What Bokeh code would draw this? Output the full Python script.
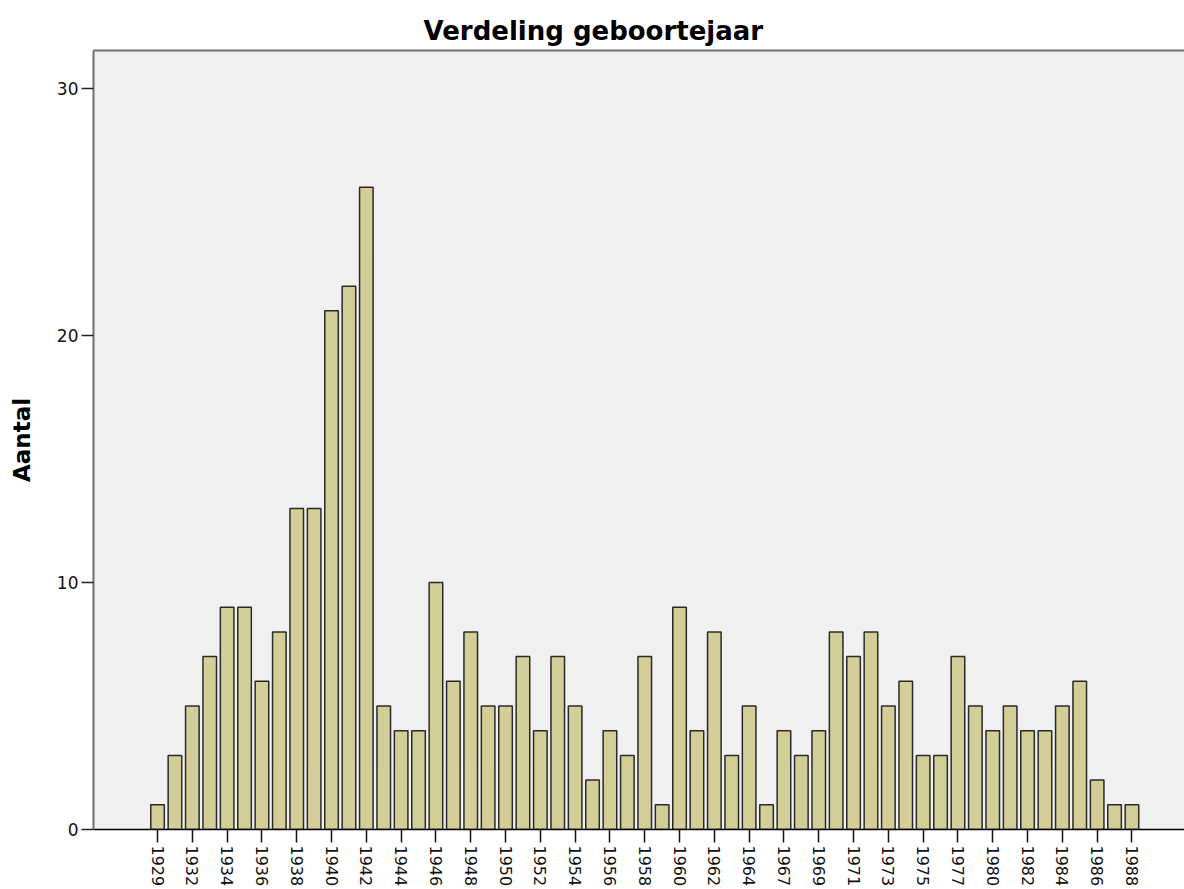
import math
from bokeh.plotting import figure
from bokeh.models import ColumnDataSource, FixedTicker, LinearAxis, Range1d
from bokeh.embed import file_html
from bokeh.resources import INLINE

# Data
years = [1929, 1931, 1932, 1933, 1934, 1935, 1936, 1937, 1938, 1939,
         1940, 1941, 1942, 1943, 1944, 1945, 1946, 1947, 1948, 1949,
         1950, 1951, 1952, 1953, 1954, 1955, 1956, 1957, 1958, 1959,
         1960, 1961, 1962, 1963, 1964, 1966, 1967, 1968, 1969, 1970,
         1971, 1972, 1973, 1974, 1975, 1976, 1977, 1979, 1980, 1981,
         1982, 1983, 1984, 1985, 1986, 1987, 1988]
counts = [1, 3, 5, 7, 9, 9, 6, 8, 13, 13,
          21, 22, 26, 5, 4, 4, 10, 6, 8, 5,
          5, 7, 4, 7, 5, 2, 4, 3, 7, 1,
          9, 4, 8, 3, 5, 1, 4, 3, 4, 8,
          7, 8, 5, 6, 3, 3, 7, 5, 4, 5,
          4, 4, 5, 6, 2, 1, 1]
y_ticks = [0, 10, 20, 30]
title_text = "Verdeling geboortejaar"
y_label = "Aantal"

positions = list(range(len(years)))
src = ColumnDataSource(dict(x=positions, count=counts, year=[str(y) for y in years]))

p = figure(width=1184, height=889,
           x_range=Range1d(-3.68, 59.02), y_range=Range1d(0, 31.54),
           output_backend="svg", toolbar_location=None,
           min_border_left=93, min_border_top=50, min_border_right=0, min_border_bottom=0)

p.background_fill_color = "#F0F0F0"
p.border_fill_color = "white"
p.outline_line_color = None
p.xgrid.grid_line_color = None
p.ygrid.grid_line_color = None

p.vbar(x="x", top="count", width=0.78, source=src,
       fill_color="#D3CE97", line_color="#2a2a2a", line_width=1.5)

# Title
p.title.text = title_text
p.title.align = "left"
p.title.offset = 330
p.title.standoff = 9
p.title.text_font = "DejaVu Sans"
p.title.text_font_size = "26px"
p.title.text_font_style = "bold"
p.title.text_color = "black"

# X axis (bottom)
xaxis = p.below[0]
xt = list(range(0, len(years), 2))
xaxis.ticker = FixedTicker(ticks=xt)
xaxis.major_label_overrides = {i: str(years[i]) for i in xt}
xaxis.major_label_orientation = -math.pi / 2
xaxis.major_label_text_font = "DejaVu Sans"
xaxis.major_label_text_font_size = "16px"
xaxis.major_label_text_color = "#111111"
xaxis.major_label_standoff = 3
xaxis.major_tick_out = 13
xaxis.major_tick_in = 0
xaxis.major_tick_line_color = "#111111"
xaxis.major_tick_line_width = 1.5
xaxis.minor_tick_line_color = None
xaxis.axis_line_color = "black"
xaxis.axis_line_width = 1.5

# Top border as an unlabeled axis
top_axis = LinearAxis(ticker=FixedTicker(ticks=[]), axis_line_color="#6e6e6e", axis_line_width=2,
                      major_tick_line_color=None, minor_tick_line_color=None,
                      major_tick_out=0, major_tick_in=0, major_label_standoff=0,
                      major_label_text_font_size="0px")
p.add_layout(top_axis, "above")

# Y axis
yaxis = p.left[0]
yaxis.ticker = FixedTicker(ticks=y_ticks)
yaxis.major_label_text_font = "DejaVu Sans"
yaxis.major_label_text_font_size = "17px"
yaxis.major_label_text_color = "#111111"
yaxis.major_label_standoff = 3
yaxis.major_tick_out = 12
yaxis.major_tick_in = 0
yaxis.major_tick_line_color = "#222222"
yaxis.major_tick_line_width = 1.5
yaxis.minor_tick_line_color = None
yaxis.axis_line_color = "#6e6e6e"
yaxis.axis_line_width = 2
yaxis.axis_label = y_label
yaxis.axis_label_text_font = "DejaVu Sans"
yaxis.axis_label_text_font_size = "23px"
yaxis.axis_label_text_font_style = "bold"
yaxis.axis_label_text_color = "black"
yaxis.axis_label_standoff = 19

open("out.html", "w").write(file_html(p, INLINE))
